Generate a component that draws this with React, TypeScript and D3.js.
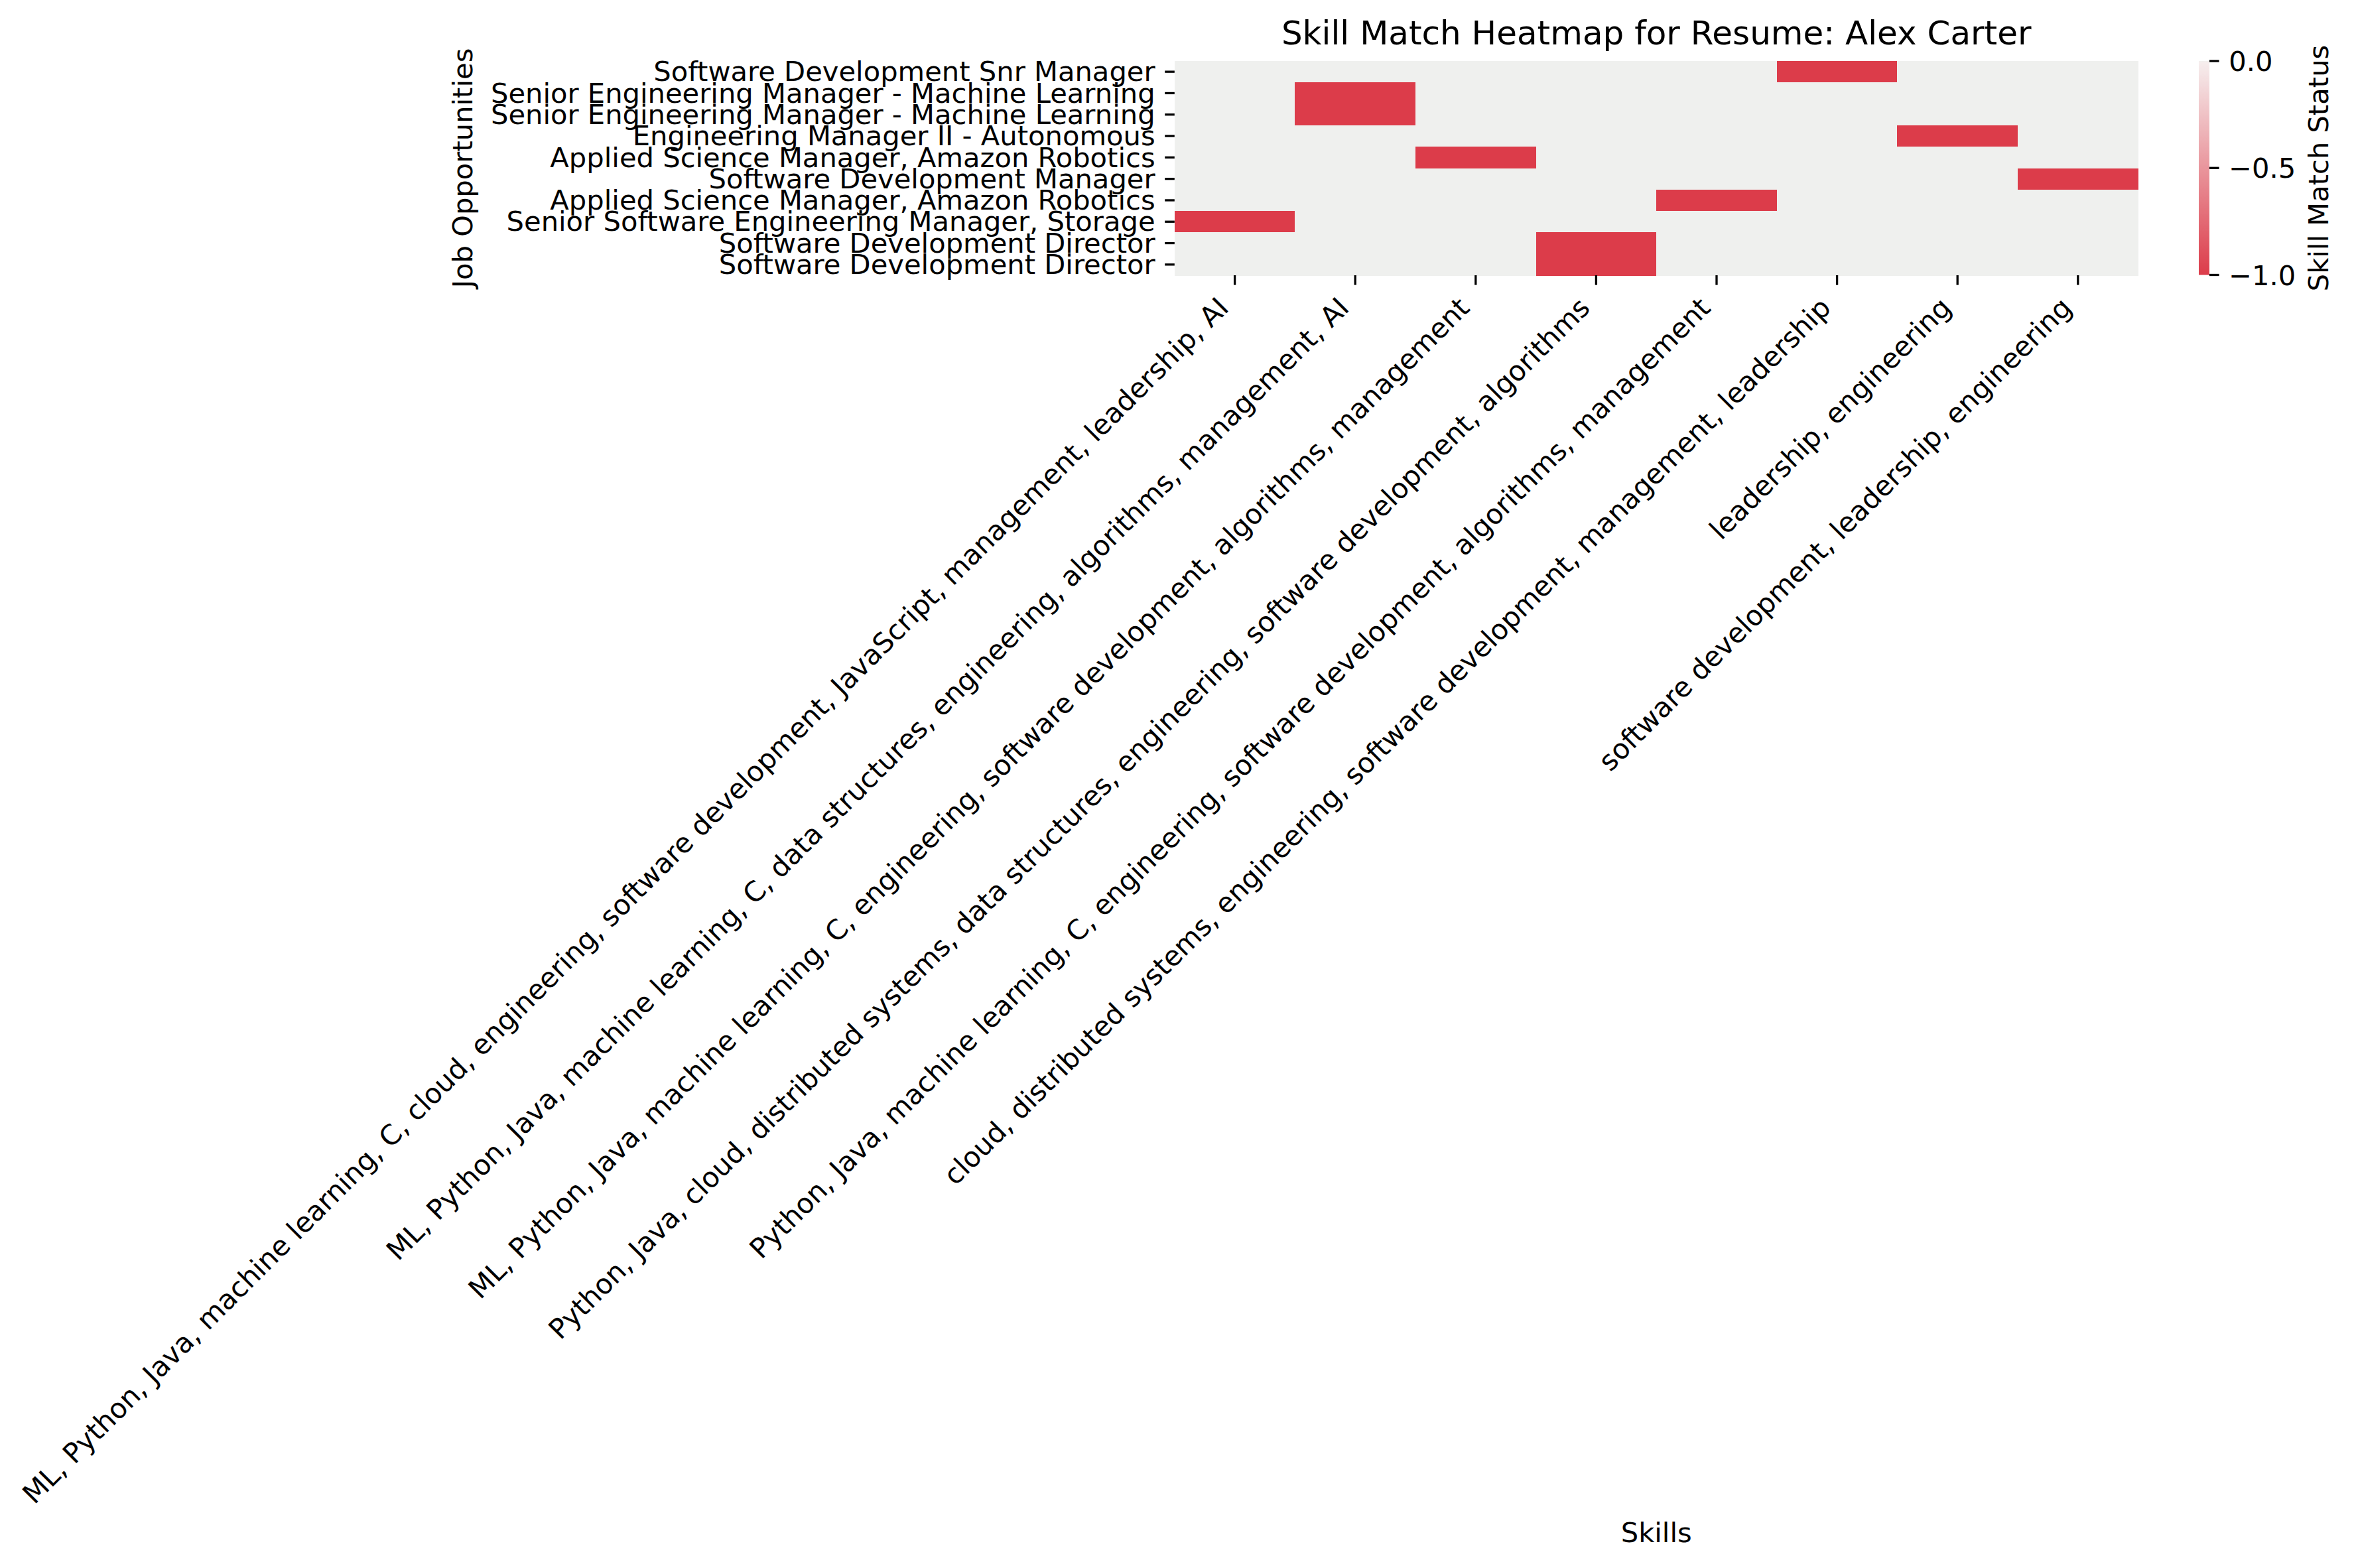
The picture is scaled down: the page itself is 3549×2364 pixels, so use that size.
import React from "react";
import * as d3 from "d3";

// ---------- data ----------
const TITLE = "Skill Match Heatmap for Resume: Alex Carter";
const X_LABEL = "Skills";
const Y_LABEL = "Job Opportunities";
const CBAR_LABEL = "Skill Match Status";

const jobs: string[] = [
  "Software Development Snr Manager",
  "Senior Engineering Manager - Machine Learning",
  "Senior Engineering Manager - Machine Learning",
  "Engineering Manager II - Autonomous",
  "Applied Science Manager, Amazon Robotics",
  "Software Development Manager",
  "Applied Science Manager, Amazon Robotics",
  "Senior Software Engineering Manager, Storage",
  "Software Development Director",
  "Software Development Director",
];

const skills: string[] = [
  "ML, Python, Java, machine learning, C, cloud, engineering, software development, JavaScript, management, leadership, AI",
  "ML, Python, Java, machine learning, C, data structures, engineering, algorithms, management, AI",
  "ML, Python, Java, machine learning, C, engineering, software development, algorithms, management",
  "Python, Java, cloud, distributed systems, data structures, engineering, software development, algorithms",
  "Python, Java, machine learning, C, engineering, software development, algorithms, management",
  "cloud, distributed systems, engineering, software development, management, leadership",
  "leadership, engineering",
  "software development, leadership, engineering",
];

// rows = jobs, columns = skills
const matchValues: number[][] = [
  [0, 0, 0, 0, 0, -1, 0, 0],
  [0, -1, 0, 0, 0, 0, 0, 0],
  [0, -1, 0, 0, 0, 0, 0, 0],
  [0, 0, 0, 0, 0, 0, -1, 0],
  [0, 0, -1, 0, 0, 0, 0, 0],
  [0, 0, 0, 0, 0, 0, 0, -1],
  [0, 0, 0, 0, -1, 0, 0, 0],
  [-1, 0, 0, 0, 0, 0, 0, 0],
  [0, 0, 0, -1, 0, 0, 0, 0],
  [0, 0, 0, -1, 0, 0, 0, 0],
];

const cbarTicks: number[] = [0, -0.5, -1];
const colorDomain: number[] = [-1, -0.004, 0];
const colorRange: string[] = ["#dc3c4a", "#f6eeee", "#eff0ee"];

// ---------- layout ----------
const W = 3549;
const H = 2364;
const FS = 41.67;
const TITLE_FS = 50;
const FONT = "'DejaVu Sans', sans-serif";
const TICK = 14.6;
const PAD = 14.6;
const TICK_W = 3.3;

const plot = { left: 1770.8, right: 3223.6, top: 92, bottom: 415 };
const cbar = { left: 3315, width: 16, top: 92, bottom: 414.5 };

export default function App() {
  const x = d3
    .scaleBand<number>()
    .domain(d3.range(skills.length))
    .range([plot.left, plot.right]);
  const y = d3
    .scaleBand<number>()
    .domain(d3.range(jobs.length))
    .range([plot.top, plot.bottom]);
  const color = d3
    .scaleLinear<string>()
    .domain(colorDomain)
    .range(colorRange)
    .interpolate(d3.interpolateRgb)
    .clamp(true);
  const cy = d3.scaleLinear().domain([-1, 0]).range([cbar.bottom, cbar.top]);
  const fmt = d3.format(".1f");

  const gradStops = d3.range(0, 1.0001, 0.01).map((t) => {
    const v = -1 + t;
    return { offset: t, color: color(v) };
  });
  // ensure the exact end point colors
  gradStops.push({ offset: 0.996, color: color(-0.004) });
  gradStops.sort((a, b) => a.offset - b.offset);

  const cells: { r: number; c: number; v: number }[] = [];
  matchValues.forEach((row, r) =>
    row.forEach((v, c) => cells.push({ r, c, v }))
  );

  const ascent = 0.76 * FS;
  const descent = 0.236 * FS;
  const s45 = Math.SQRT1_2;
  const xLabelTop = plot.bottom + TICK + PAD;
  const plotCx = (plot.left + plot.right) / 2;
  const plotCy = (plot.top + plot.bottom) / 2;

  return (
    <svg
      width={W}
      height={H}
      viewBox={`0 0 ${W} ${H}`}
      style={{ position: "absolute", left: 0, top: 0, background: "#ffffff" }}
      fontFamily={FONT}
    >
      <rect x={0} y={0} width={W} height={H} fill="#ffffff" />
      <defs>
        <linearGradient id="cbarGrad" x1="0" y1="1" x2="0" y2="0">
          {gradStops.map((s, i) => (
            <stop key={i} offset={s.offset} stopColor={s.color} />
          ))}
        </linearGradient>
      </defs>

      {/* title */}
      <text
        x={plotCx}
        y={67}
        textAnchor="middle"
        fontSize={TITLE_FS}
        fill="#000"
      >
        {TITLE}
      </text>

      {/* cells */}
      <g shapeRendering="crispEdges">
        {cells.map((d, i) => (
          <rect
            key={i}
            x={x(d.c)}
            y={y(d.r)}
            width={x.bandwidth() + 0.5}
            height={y.bandwidth() + 0.5}
            fill={color(d.v)}
          />
        ))}
      </g>

      {/* y ticks and labels */}
      {jobs.map((j, i) => {
        const yc = (y(i) as number) + y.bandwidth() / 2;
        return (
          <g key={i}>
            <line
              x1={plot.left - TICK}
              x2={plot.left}
              y1={yc}
              y2={yc}
              stroke="#000"
              strokeWidth={TICK_W}
            />
            <text
              x={plot.left - TICK - PAD}
              y={yc}
              dy="0.34em"
              textAnchor="end"
              fontSize={FS}
              fill="#000"
            >
              {j}
            </text>
          </g>
        );
      })}

      {/* x ticks and labels */}
      {skills.map((s, i) => {
        const xc = (x(i) as number) + x.bandwidth() / 2;
        const px = xc - s45 * descent;
        const py = xLabelTop + s45 * ascent;
        return (
          <g key={i}>
            <line
              x1={xc}
              x2={xc}
              y1={plot.bottom}
              y2={plot.bottom + TICK}
              stroke="#000"
              strokeWidth={TICK_W}
            />
            <text
              transform={`translate(${px},${py}) rotate(-45)`}
              textAnchor="end"
              fontSize={FS}
              fill="#000"
            >
              {s}
            </text>
          </g>
        );
      })}

      {/* axis labels */}
      <text
        x={plotCx}
        y={2325}
        textAnchor="middle"
        fontSize={FS}
        fill="#000"
      >
        {X_LABEL}
      </text>
      <text
        transform={`translate(712,${plotCy}) rotate(-90)`}
        textAnchor="middle"
        fontSize={FS}
        fill="#000"
      >
        {Y_LABEL}
      </text>

      {/* colorbar */}
      <rect
        x={cbar.left}
        y={cbar.top}
        width={cbar.width}
        height={cbar.bottom - cbar.top}
        fill="url(#cbarGrad)"
      />
      {cbarTicks.map((t, i) => (
        <g key={i}>
          <line
            x1={cbar.left + cbar.width}
            x2={cbar.left + cbar.width + TICK}
            y1={cy(t)}
            y2={cy(t)}
            stroke="#000"
            strokeWidth={TICK_W}
          />
          <text
            x={cbar.left + cbar.width + TICK + PAD}
            y={cy(t)}
            dy="0.36em"
            textAnchor="start"
            fontSize={FS}
            fill="#000"
          >
            {fmt(t)}
          </text>
        </g>
      ))}
      <text
        transform={`translate(3510,${plotCy}) rotate(-90)`}
        textAnchor="middle"
        fontSize={FS}
        fill="#000"
      >
        {CBAR_LABEL}
      </text>
    </svg>
  );
}
